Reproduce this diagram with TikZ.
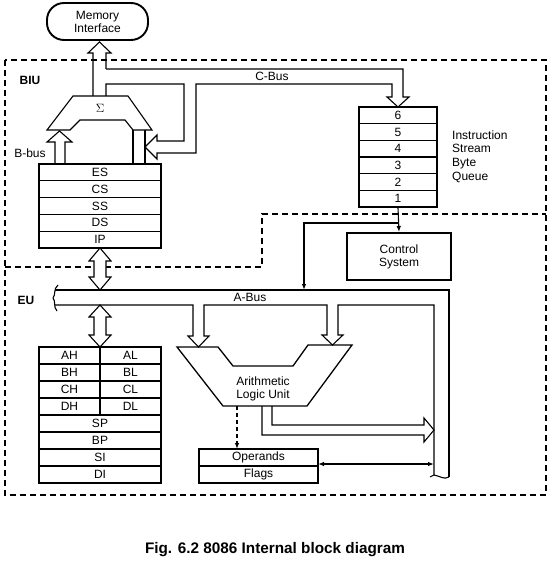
\documentclass[tikz,border=0pt]{standalone}
\usepackage{fontspec}
\setmainfont{Liberation Sans}
\usetikzlibrary{arrows.meta}
\begin{document}
\begin{tikzpicture}[x=1pt,y=-1pt,
  txt/.style={font=\fontsize{12}{13}\selectfont, inner sep=0pt},
  boldlbl/.style={font=\fontsize{12}{13}\selectfont\bfseries, inner sep=0pt},
  ln/.style={line width=1.1pt, line join=miter},
  frame/.style={draw, line width=1.9pt},
  region/.style={line width=1.4pt, dash pattern=on 6pt off 4pt},
  tip/.style={-{Latex[length=6pt,width=4.5pt]}},
  dtip/.style={{Latex[length=6pt,width=4.5pt]}-{Latex[length=6pt,width=4.5pt]}},
]
\useasboundingbox (0,0) rectangle (553,564);

% regions
\draw[region] (5,60) rectangle (546,495);
\draw[region] (5,267) -- (262,267) -- (262,214) -- (546,214);
\node[boldlbl] (biu) at (30,80) {BIU};
\node[boldlbl] (eu) at (26,300) {EU};

% memory interface
\node[frame, rounded corners=17pt, minimum width=101pt, minimum height=37pt, align=center, txt] (mem) at (97.5,21.5) {Memory\\Interface};

% sigma adder
\draw[ln, fill=white] (73,96) -- (128,96) -- (152,130) -- (133,130) -- (125,120) -- (80,120) -- (70,130) -- (47,130) -- cycle;
\node[inner sep=0pt, font=\fontsize{13}{14}\selectfont] (sig) at (100,108) {$\Sigma$};

% arrow to memory and C-bus
\draw[ln] (106,69) -- (106,53) -- (111,53) -- (99.5,42) -- (88,53) -- (93,53) -- (93,96);
\draw[ln] (106,69) -- (403,69) -- (403,97) -- (409,97) -- (398,107) -- (387,97) -- (392,97) -- (392,84) -- (196,84) -- (196,153) -- (157,153) -- (157,159) -- (145,147) -- (157,135) -- (157,141) -- (184,141) -- (184,84) -- (106,84) -- (106,96);
\node[txt] (cbus) at (272,76) {C-Bus};

% B-bus arrow and right column
\draw[ln] (55,164) -- (55,142) -- (47,142) -- (59.5,131) -- (72,142) -- (65,142) -- (65,164);
\draw[ln] (133,130) -- (133,164) (145,130) -- (145,164);
\node[txt] (bbus) at (30,153) {B-bus};

% segment registers
\foreach \k in {1,...,4} \draw[ln] (39,164+16.8*\k) -- (161,164+16.8*\k);
\draw[frame] (39,164) rectangle (161,248);
\foreach \t [count=\k from 0] in {ES,CS,SS,DS,IP}
  \node[txt] (seg\k) at (100,172.4+16.8*\k) {\t};

% double arrow BIU - A-bus
\draw[ln, fill=white] (100,248) -- (111,261) -- (106,261) -- (106,277) -- (111,277) -- (100,290) -- (89,277) -- (94,277) -- (94,261) -- (89,261) -- cycle;

% A-bus
\draw[ln] (55,290) -- (449,290) -- (449,477);
\draw[ln] (55,305) -- (193,305) -- (193,336) -- (188,336) -- (198.5,347) -- (209,336) -- (204,336) -- (204,305) -- (327,305) -- (327,335) -- (322,335) -- (332.5,345) -- (343,335) -- (338,335) -- (338,305) -- (434,305) -- (434,475);
\draw[ln] (58,285) .. controls (53,289) and (56,295) .. (53,298) .. controls (56,301) and (53,307) .. (57,311);
\draw[ln] (430,477) -- (434,475) .. controls (440,476) and (444,480) .. (449,477);
\node[txt] (abus) at (250,297) {A-Bus};

% double arrow A-bus - general registers
\draw[ln, fill=white] (100,305) -- (111,317) -- (106,317) -- (106,335) -- (111,335) -- (100,347) -- (89,335) -- (94,335) -- (94,317) -- (89,317) -- cycle;

% general registers
\foreach \k in {1,...,7} \draw[ln] (39,347+17*\k) -- (161,347+17*\k);
\draw[ln] (100,347) -- (100,415);
\draw[frame] (39,347) rectangle (161,483);
\foreach \a/\b [count=\k from 0] in {AH/AL,BH/BL,CH/CL,DH/DL} {
  \node[txt] (h\k) at (69.5,355.5+17*\k) {\a};
  \node[txt] (l\k) at (130.5,355.5+17*\k) {\b};
}
\foreach \t [count=\k from 4] in {SP,BP,SI,DI}
  \node[txt] (r\k) at (100,355.5+17*\k) {\t};

% ALU
\draw[ln, line width=1.3pt] (177,347) -- (218,347) -- (233,366) -- (293,366) -- (308,345) -- (352,345) -- (307,406) -- (223,406) -- cycle;
\node[txt, align=center] (alu) at (263,388.5) {Arithmetic\\Logic Unit};

% ALU output
\draw[ln] (262,406) -- (262,435) -- (424,435) -- (424,442) -- (434,430) -- (424,418) -- (424,425) -- (272,425) -- (272,406);

% operands / flags
\draw[ln] (199,466) -- (318,466);
\draw[draw, line width=1.6pt] (199,449) rectangle (318,483);
\node[txt] (opd) at (258.5,457.5) {Operands};
\node[txt] (flg) at (258.5,474.5) {Flags};
\coordinate (aluout) at (237,406);
\coordinate (opdtop) at (237,449);
\draw[ln, dash pattern=on 4pt off 3pt, tip] (aluout) -- (opdtop);
\coordinate (flgR) at (318,464);
\coordinate (busR) at (434,464);
\draw[ln, dtip] (flgR) -- (busR);

% instruction queue
\node[frame, minimum width=78pt, minimum height=100pt, inner sep=0pt] (queue) at (398,157) {};
\foreach \k in {1,...,5} \draw[ln] (359,107+16.667*\k) -- (437,107+16.667*\k);
\draw[frame] (359,107) rectangle (437,207);
\foreach \t [count=\k from 0] in {6,5,4,3,2,1}
  \node[txt] (q\t) at (398,115.3+16.667*\k) {\t};
\node[font=\fontsize{12}{13.7}\selectfont, inner sep=0pt, align=left, anchor=west] (qlbl) at (452,156.5) {Instruction\\Stream\\Byte\\Queue};

% control system
\node[frame, minimum width=104pt, minimum height=47pt, align=center, txt] (ctrl) at (399,256.5) {Control\\System};
\draw[ln, tip] (queue.south) -- (ctrl.north);
\coordinate (br) at (398,223);
\coordinate (abtop) at (304,290);
\draw[ln, tip] (br) -| (abtop);

% caption
\node[font=\fontsize{15.3}{17}\selectfont\bfseries, inner sep=0pt] (cap) at (275,550) {Fig. 6.2 8086 Internal block diagram};
\end{tikzpicture}
\end{document}
